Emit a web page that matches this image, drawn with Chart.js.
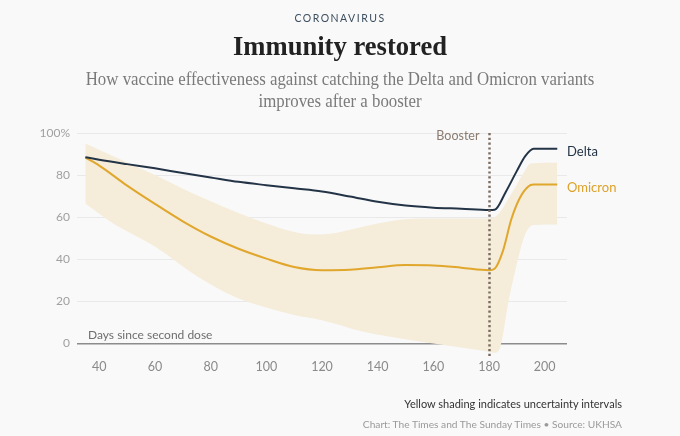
<!DOCTYPE html>
<html>
<head>
<meta charset="utf-8">
<script src="https://cdn.jsdelivr.net/npm/chart.js@4.4.1/dist/chart.umd.min.js"></script>
<style>
  html, body { margin: 0; padding: 0; background: #f9f9f9; }
  #wrap { position: relative; width: 680px; height: 436px; overflow: hidden; background: #f9f9f9; }
  #c { position: absolute; left: 0; top: 0; }
  .t { position: absolute; left: 0; width: 680px; text-align: center; white-space: nowrap; }
  #kicker { top: 12px; font: 10.5px 'Lato', sans-serif; letter-spacing: 1.5px; color: #3b4d5e; }
  #title { top: 30px; font: bold 28px 'Liberation Serif', serif; color: #222; transform: scaleX(0.95); }
  #sub { top: 68px; font: 18px/22px 'Liberation Serif', serif; color: #7a7a7a; transform: scaleX(0.935); }
  .foot { position: absolute; right: 58px; white-space: nowrap; font-family: 'Lato', sans-serif; }
  #note { top: 397px; font-size: 11px; color: #333; }
  #src { top: 418px; font-size: 10.2px; color: #9a9a9a; }
</style>
</head>
<body>
<div id="wrap">
  <canvas id="c" width="680" height="436"></canvas>
  <div class="t" id="kicker">CORONAVIRUS</div>
  <div class="t" id="title">Immunity restored</div>
  <div class="t" id="sub">How vaccine effectiveness against catching the Delta and Omicron variants<br>improves after a booster</div>
  <div class="foot" id="note">Yellow shading indicates uncertainty intervals</div>
  <div class="foot" id="src">Chart: The Times and The Sunday Times • Source: UKHSA</div>
</div>
<script>
// values: [days since second dose, % effectiveness]
const delta = [[35,88.5],[40,87.3],[50,85.2],[60,83.2],[70,81],[80,78.9],[90,76.8],[100,75.2],[110,73.7],[120,72.2],
  [130,69.8],[140,67.3],[150,65.5],[160,64.5],[170,64],[180,63.4],[182,63.5],[186,72],[190,82],[193,89],[196,92.5],[204.5,92.5]];
const omicron = [[35,88.3],[40,84.5],[50,75],[60,66.3],[70,58],[80,50.8],[90,45],[100,40.3],[110,36.3],[120,34.8],
  [130,35],[140,36.2],[150,37.2],[160,37],[170,36],[180,34.8],[182,35.5],[185,44],[188,59],[191,69],[194,74.5],[196,75.5],[204.5,75.5]];
const bandHigh = [[35,95],[50,86],[60,80],[70,73.5],[80,67.5],[90,62],[100,57],[110,53],[117,51.8],[125,52.5],
  [130,54],[140,57],[150,59],[160,59.4],[180,59.4],[183,61],[188,71],[192,80],[195,85.5],[204.5,85.8]];
const bandLow = [[35,66.5],[45,57],[60,46],[75,32],[88,22.5],[100,17],[110,13.5],[120,11],[135,5.5],[150,2],
  [160,0],[170,-2],[180,-4],[182,-4.5],[184,-2],[187,20],[190,38],[193,52],[196,56.3],[204.5,56.5]];
const xTicks = [40, 60, 80, 100, 120, 140, 160, 180, 200];
const yTicks = [0, 20, 40, 60, 80, 100];
const boosterDay = 180;

const FONT = "'Lato', sans-serif";
const pts = arr => arr.map(([x, y]) => ({ x, y }));

const annot = {
  id: 'annot',
  afterDatasetsDraw(ch) {
    const { ctx, scales: { x, y }, chartArea: a } = ch;
    ctx.save();
    // booster marker
    const bx = Math.round(x.getPixelForValue(boosterDay)) + 0.5;
    ctx.strokeStyle = '#7d6e64'; ctx.lineWidth = 2.5;
    ctx.setLineDash([2.2, 2.6]);
    ctx.beginPath(); ctx.moveTo(bx, y.getPixelForValue(100)); ctx.lineTo(bx, a.bottom); ctx.stroke();
    ctx.setLineDash([]);
    ctx.font = '12.5px ' + FONT;
    ctx.fillStyle = '#8b7b70'; ctx.textAlign = 'right'; ctx.textBaseline = 'middle';
    ctx.fillText('Booster', bx - 10, y.getPixelForValue(98.5));

    // axis caption sitting on the zero line
    ctx.textAlign = 'left'; ctx.textBaseline = 'alphabetic';
    ctx.font = '12px ' + FONT;
    ctx.strokeStyle = '#f9f9f9'; ctx.lineWidth = 3;
    const zy = y.getPixelForValue(0);
    ctx.strokeText('Days since second dose', 88, zy - 4);
    ctx.fillStyle = '#6e6e6e';
    ctx.fillText('Days since second dose', 88, zy - 4);

    // series labels
    ctx.font = '13px ' + FONT;
    ctx.textBaseline = 'middle';
    ctx.fillStyle = '#243447';
    ctx.fillText('Delta', a.right, y.getPixelForValue(delta[delta.length - 1][1]) + 3);
    ctx.fillStyle = '#dca22a';
    ctx.fillText('Omicron', a.right, y.getPixelForValue(omicron[omicron.length - 1][1]) + 3);
    ctx.restore();
  }
};

new Chart(document.getElementById('c'), {
  type: 'line',
  plugins: [annot],
  data: {
    datasets: [
      { label: 'Delta', data: pts(delta), borderColor: '#243447', borderWidth: 2,
        pointRadius: 0, fill: false, cubicInterpolationMode: 'monotone' },
      { label: 'Omicron', data: pts(omicron), borderColor: '#e0a72c', borderWidth: 2,
        pointRadius: 0, fill: false, cubicInterpolationMode: 'monotone' },
      { label: 'High', data: pts(bandHigh), borderWidth: 0, borderColor: 'rgba(0,0,0,0)',
        backgroundColor: '#f5ecd9', pointRadius: 0, fill: '+1', cubicInterpolationMode: 'monotone' },
      { label: 'Low', data: pts(bandLow), borderWidth: 0, borderColor: 'rgba(0,0,0,0)',
        pointRadius: 0, fill: false, cubicInterpolationMode: 'monotone' }
    ]
  },
  options: {
    responsive: false, animation: false,
    layout: { padding: { left: 27, right: 113, top: 133, bottom: 50 } },
    scales: {
      x: {
        type: 'linear', min: 32, max: 208,
        afterBuildTicks: s => { s.ticks = xTicks.map(v => ({ value: v })); },
        afterFit: s => { s.height = 30; },
        grid: { display: false, drawTicks: false }, border: { display: false },
        ticks: { color: '#8a8a8a', font: { family: FONT, size: 12.5 }, padding: 3, maxRotation: 0 }
      },
      y: {
        min: -6, max: 100,
        afterBuildTicks: s => { s.ticks = yTicks.map(v => ({ value: v })); },
        afterFit: s => { s.width = 50; },
        border: { display: false },
        grid: {
          drawTicks: false,
          color: c => c.tick && c.tick.value === 0 ? '#8c8c8c' : '#e9e9e9',
          lineWidth: c => c.tick && c.tick.value === 0 ? 1.5 : 1
        },
        ticks: { color: '#a0a0a0', font: { family: FONT, size: 12 }, padding: 7,
          callback: v => v === 100 ? '100%' : v }
      }
    },
    plugins: { legend: { display: false }, tooltip: { enabled: false } }
  }
});
</script>
</body>
</html>
